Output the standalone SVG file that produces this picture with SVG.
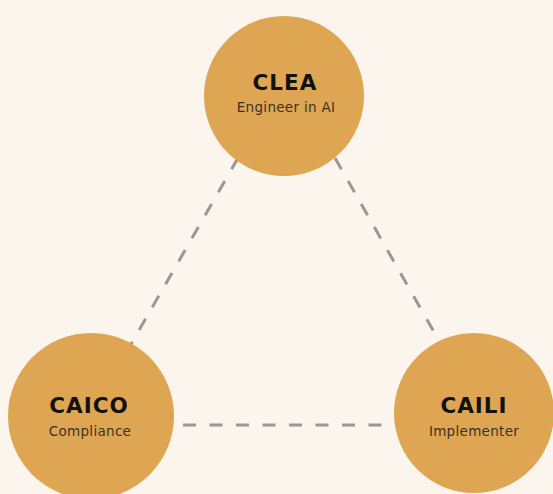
<svg xmlns="http://www.w3.org/2000/svg" width="553" height="494" viewBox="0 0 553 494">
<style>
.bg{fill:#fbf5ee}
.node{fill:#dea653}
.link{stroke:#999892;stroke-width:3;stroke-dasharray:13 13.5;fill:none}
.t{font-family:"DejaVu Sans","Liberation Sans",sans-serif;font-weight:700;font-size:21.5px;letter-spacing:1px;fill:#111;text-anchor:middle}
.s{font-family:"DejaVu Sans","Liberation Sans",sans-serif;font-size:13.5px;letter-spacing:0.3px;fill:#3a3226;text-anchor:middle}
</style>
<rect class="bg" width="553" height="494"/>
<g id="connectors">
<line class="link" x1="238" y1="158" x2="130" y2="346"/>
<line class="link" x1="335" y1="158" x2="434" y2="332"/>
<line class="link" x1="183" y1="425" x2="390" y2="425"/>
</g>
<g id="clea">
<circle class="node" cx="284" cy="96" r="80"/>
<text class="t" x="285" y="90">CLEA</text>
<text class="s" x="286" y="112">Engineer in AI</text>
</g>
<g id="caico">
<circle class="node" cx="91" cy="416" r="83"/>
<text class="t" x="89" y="413">CAICO</text>
<text class="s" x="90" y="436">Compliance</text>
</g>
<g id="caili">
<circle class="node" cx="474" cy="413" r="80"/>
<text class="t" x="474" y="413">CAILI</text>
<text class="s" x="474" y="436">Implementer</text>
</g>
</svg>
